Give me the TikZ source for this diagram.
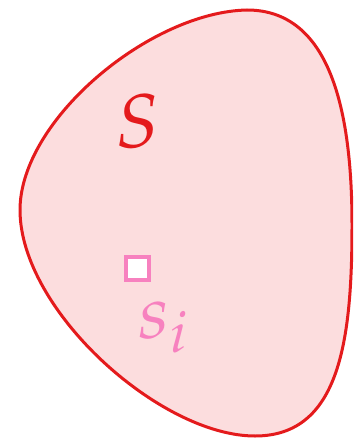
\documentclass[tikz,border=0pt]{standalone}
\usepackage{mathpazo}
\definecolor{setred}{RGB}{228,26,28}
\definecolor{setpink}{RGB}{247,129,191}
\definecolor{blobfill}{RGB}{252,221,222}
\begin{document}
\begin{tikzpicture}[x=1pt,y=-1pt,
  blob/.style={draw=setred,line width=3pt,fill=blobfill},
  elem/.style={draw=setpink,line width=4pt,fill=white,minimum size=23.5pt,inner sep=0pt},
  bigtext/.style={inner sep=0pt,font=\fontsize{76}{80}\selectfont}]
\useasboundingbox (0,0) rectangle (353,438);
\clip (0,0) rectangle (353,438);
\path[blob] (247,10)
  .. controls (150,12) and (20,120) .. (20,210)
  .. controls (20,310) and (160,436) .. (255,436)
  .. controls (340,436) and (352,340) .. (352,225)
  .. controls (352,110) and (330,10) .. (247,10) -- cycle;
\node[bigtext,text=setred] (S) at (138,121) {$S$};
\node[elem] (si) at (137.5,268.5) {};
\node[bigtext,text=setpink,anchor=base west] (silabel) at (138.5,338) {$s_i$};
\end{tikzpicture}
\end{document}
